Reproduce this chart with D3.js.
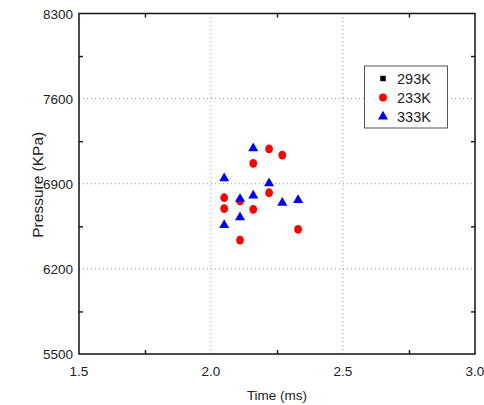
<!DOCTYPE html>
<html>
<head>
<meta charset="utf-8">
<script src="https://cdn.jsdelivr.net/npm/d3@7"></script>
<style>
  body { margin: 0; background: #fff; }
  text { font-family: "Liberation Sans", Arial, sans-serif; fill: #222; }
</style>
</head>
<body>
<svg id="main" width="484" height="405"></svg>
<script>
// data
const xTicks = [1.5, 2.0, 2.5, 3.0];
const yTicks = [5500, 6200, 6900, 7600, 8300];
const seriesNames = ['293K', '233K', '333K'];

const t233 = [2.22, 2.27, 2.16, 2.22, 2.05, 2.11, 2.05, 2.16, 2.33, 2.11];
const p233 = [7186, 7136, 7068, 6826, 6785, 6758, 6695, 6690, 6525, 6437];
const t333 = [2.16, 2.05, 2.22, 2.11, 2.16, 2.27, 2.33, 2.11, 2.05];
const p333 = [7192, 6945, 6904, 6775, 6802, 6744, 6766, 6624, 6561];

const margin = {left: 79, right: 9, top: 13.5, bottom: 51};
const W = 484, H = 405;

const svg = d3.select('#main');

const x = d3.scaleLinear().domain([1.5, 3.0]).range([margin.left, W - margin.right]);
const y = d3.scaleLinear().domain([5500, 8300]).range([H - margin.bottom, margin.top]);

// grid
svg.append('g')
  .selectAll('line')
  .data(xTicks.slice(1, -1))
  .join('line')
  .attr('x1', d => x(d)).attr('x2', d => x(d))
  .attr('y1', y(5500)).attr('y2', y(8300))
  .attr('stroke', '#999')
  .attr('stroke-dasharray', '1,3');

svg.append('g')
  .selectAll('line')
  .data(yTicks.slice(1, -1))
  .join('line')
  .attr('x1', x(1.5)).attr('x2', x(3.0))
  .attr('y1', d => y(d)).attr('y2', d => y(d))
  .attr('stroke', '#999')
  .attr('stroke-dasharray', '1,3');

// axes with inward minor ticks
const xMinor = [1.75, 2.25, 2.75];
const yMinor = [5850, 6550, 7250, 7950];

svg.append('g')
  .attr('transform', 'translate(0,' + y(5500) + ')')
  .call(d3.axisBottom(x).tickValues(xMinor).tickSize(-4).tickFormat(''))
  .call(g => g.select('.domain').remove());
svg.append('g')
  .attr('transform', 'translate(0,' + y(8300) + ')')
  .call(d3.axisTop(x).tickValues(xMinor).tickSize(-4).tickFormat(''))
  .call(g => g.select('.domain').remove());
svg.append('g')
  .attr('transform', 'translate(' + x(1.5) + ',0)')
  .call(d3.axisLeft(y).tickValues(yMinor).tickSize(-4).tickFormat(''))
  .call(g => g.select('.domain').remove());
svg.append('g')
  .attr('transform', 'translate(' + x(3.0) + ',0)')
  .call(d3.axisRight(y).tickValues(yMinor).tickSize(-4).tickFormat(''))
  .call(g => g.select('.domain').remove());
svg.selectAll('.tick line').attr('stroke', '#222').attr('stroke-width', 1.5);

// frame
svg.append('rect')
  .attr('x', x(1.5)).attr('y', y(8300))
  .attr('width', x(3.0) - x(1.5)).attr('height', y(5500) - y(8300))
  .attr('fill', 'none')
  .attr('stroke', '#111')
  .attr('stroke-width', 1.5);

// tick labels
svg.append('g')
  .selectAll('text')
  .data(xTicks)
  .join('text')
  .attr('x', d => x(d))
  .attr('y', y(5500) + 22)
  .attr('text-anchor', 'middle')
  .style('font-size', '13.5px')
  .text(d => d.toFixed(1));

svg.append('g')
  .selectAll('text')
  .data(yTicks)
  .join('text')
  .attr('x', x(1.5) - 6)
  .attr('y', d => y(d) + 5)
  .attr('text-anchor', 'end')
  .style('font-size', '13.5px')
  .text(d => d);

// axis titles
svg.append('text')
  .attr('x', (x(1.5) + x(3.0)) / 2)
  .attr('y', 400)
  .attr('text-anchor', 'middle')
  .style('font-size', '13.5px')
  .text('Time (ms)');

svg.append('text')
  .attr('transform', 'translate(43,' + (y(6900) + 1) + ') rotate(-90)')
  .attr('text-anchor', 'middle')
  .style('font-size', '15.5px')
  .text('Pressure (KPa)');

// markers
const circ = d3.symbol().type(d3.symbolCircle).size(48);
const tri = d3.symbol().type(d3.symbolTriangle).size(44);
const sq = d3.symbol().type(d3.symbolSquare).size(30);

svg.append('g')
  .selectAll('path')
  .data(d3.range(t233.length))
  .join('path')
  .attr('d', circ)
  .attr('transform', i => 'translate(' + x(t233[i]) + ',' + y(p233[i]) + ') scale(1,1.12)')
  .attr('fill', '#f00');

svg.append('g')
  .selectAll('path')
  .data(d3.range(t333.length))
  .join('path')
  .attr('d', tri)
  .attr('transform', i => 'translate(' + x(t333[i]) + ',' + y(p333[i]) + ')')
  .attr('fill', '#00f');

// legend
const legend = svg.append('g');
legend.append('rect')
  .attr('x', 364.5).attr('y', 66)
  .attr('width', 83).attr('height', 62)
  .attr('fill', '#fff')
  .attr('stroke', '#555');

const legendRows = legend.selectAll('g')
  .data(seriesNames)
  .join('g')
  .attr('transform', (d, i) => 'translate(383,' + (78.5 + i * 19) + ')');

legendRows.append('path')
  .attr('d', (d, i) => [sq, circ, tri][i]())
  .attr('fill', (d, i) => ['#000', '#f00', '#00f'][i]);

legendRows.append('text')
  .attr('x', 14)
  .attr('y', 5.5)
  .style('font-size', '14.5px')
  .text(d => d);
</script>
</body>
</html>
